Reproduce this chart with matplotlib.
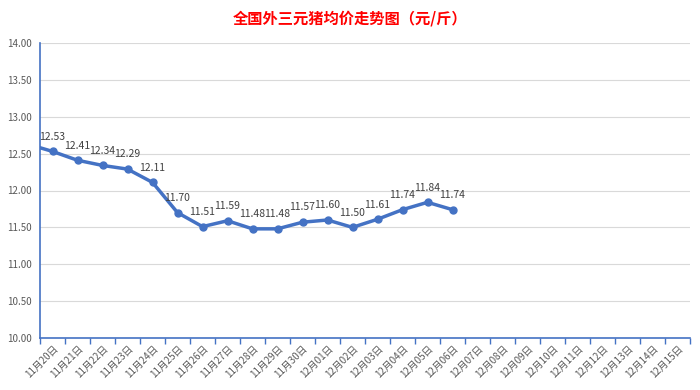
import numpy as np
import matplotlib
matplotlib.use('Agg')
from matplotlib import pyplot as plt

plt.rcParams['font.family'] = ['Noto Sans CJK SC', 'DejaVu Sans']

dates = ['11月20日', '11月21日', '11月22日', '11月23日', '11月24日', '11月25日',
         '11月26日', '11月27日', '11月28日', '11月29日', '11月30日', '12月01日',
         '12月02日', '12月03日', '12月04日', '12月05日', '12月06日', '12月07日',
         '12月08日', '12月09日', '12月10日', '12月11日', '12月12日', '12月13日',
         '12月14日', '12月15日']
prices = [12.53, 12.41, 12.34, 12.29, 12.11, 11.70, 11.51, 11.59, 11.48, 11.48,
          11.57, 11.60, 11.50, 11.61, 11.74, 11.84, 11.74]
prev_price = 12.63  # point before 11月20日, only its segment is visible
yticks = [10.0, 10.5, 11.0, 11.5, 12.0, 12.5, 13.0, 13.5, 14.0]

blue = '#4472C4'

fig = plt.figure(figsize=(7, 3.9), dpi=100)
ax = fig.add_axes([40/700, 1-338/390, 650/700, 295/390])

x = np.arange(len(prices))
ax.plot(np.r_[-1, x], np.r_[prev_price, prices], color=blue, linewidth=2.5,
        marker='o', markersize=5, clip_on=True, zorder=3)

for xi, v in zip(x, prices):
    ax.annotate(f'{v:.2f}', (xi, v), xytext=(0, 7), textcoords='offset points',
                ha='center', va='bottom', fontsize=7.5, color='#404040')

ax.set_xlim(-0.5, len(dates) - 0.5)
ax.set_ylim(10, 14)
ax.set_yticks(yticks)
ax.set_yticklabels([f'{t:.2f}' for t in yticks], fontsize=7, color='#595959')
ax.yaxis.grid(True, color='#D9D9D9', linewidth=0.8)
ax.set_axisbelow(True)
ax.tick_params(axis='y', length=0, pad=6)

ax.set_xticks(np.arange(len(dates)))
ax.set_xticklabels(dates, rotation=45, ha='right', rotation_mode='anchor',
                   fontsize=7, color='#595959')
ax.set_xticks(np.arange(len(dates) + 1) - 0.5, minor=True)
ax.tick_params(axis='x', which='major', length=0, pad=4)
ax.tick_params(axis='x', which='minor', length=4, color=blue, width=1)

for s in ['top', 'right']:
    ax.spines[s].set_visible(False)
ax.spines['left'].set_color(blue)
ax.spines['bottom'].set_color(blue)
ax.spines['left'].set_linewidth(1.2)
ax.spines['bottom'].set_linewidth(1.2)

fig.text(0.5, 1-18/390, '全国外三元猪均价走势图（元/斤）', ha='center', va='center',
         fontsize=11, fontweight='bold', color='#FF0000')

fig.savefig('out.png', dpi=100)
